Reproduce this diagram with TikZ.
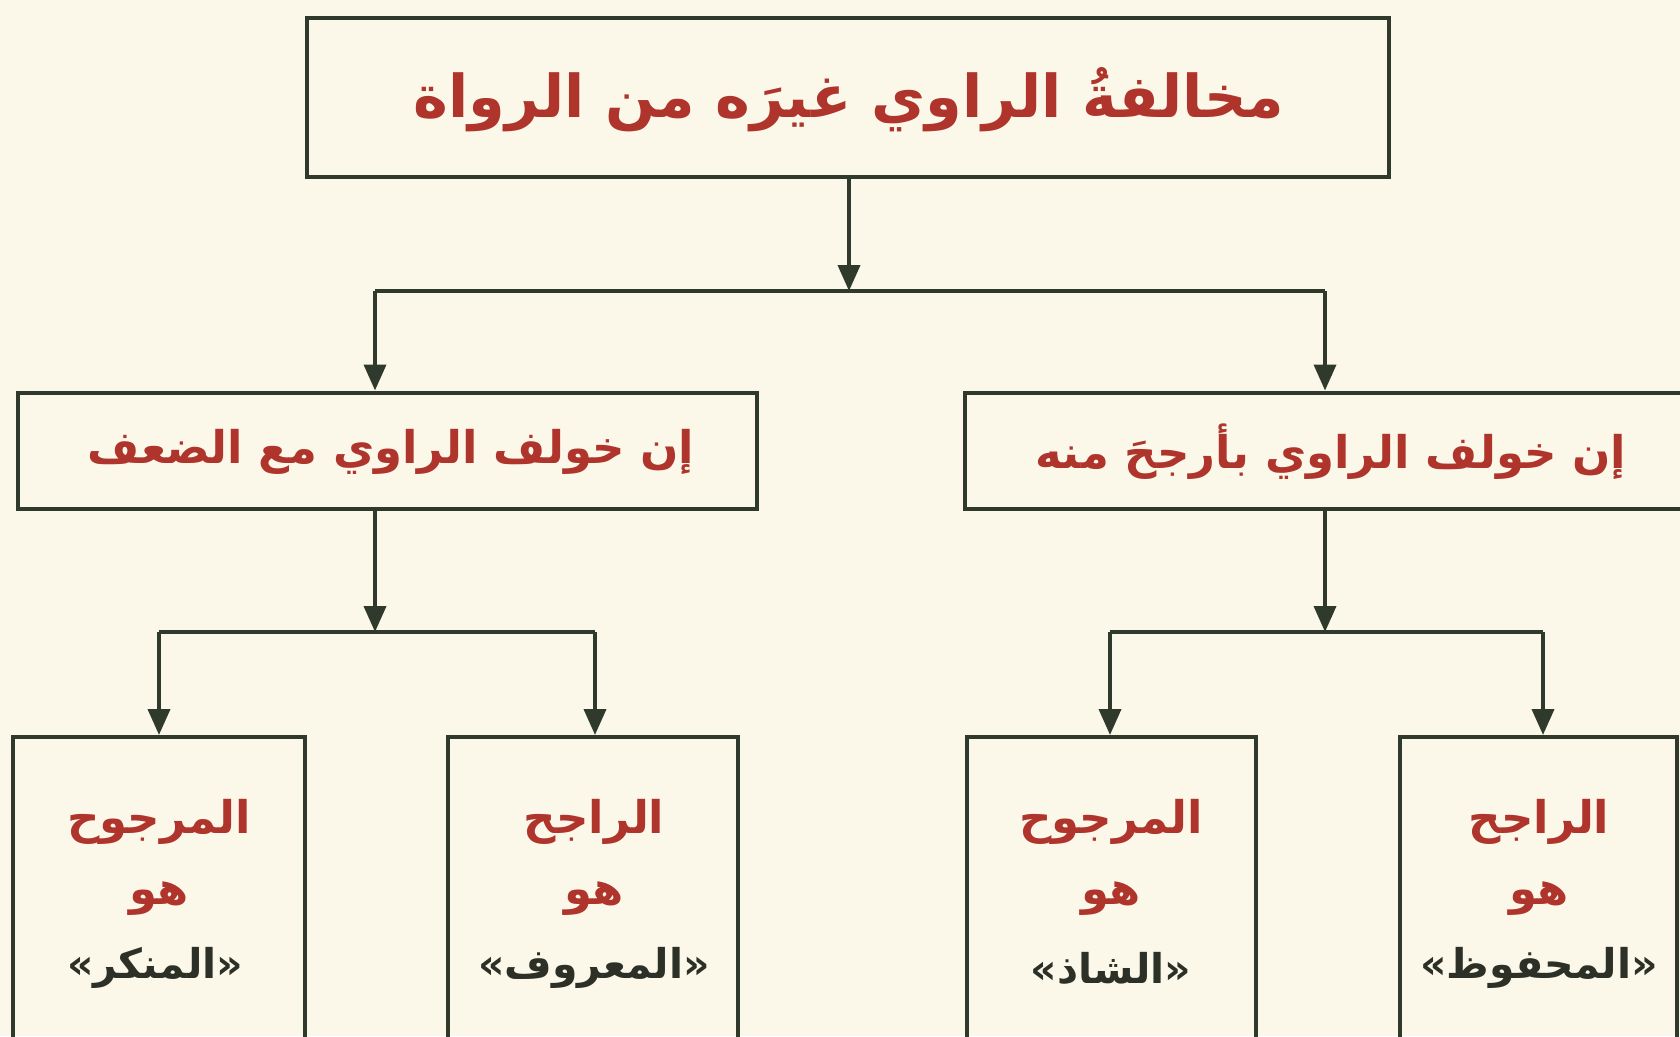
\documentclass[tikz,border=0pt]{standalone}
\usepackage{fontspec}
\usetikzlibrary{arrows.meta}
\TeXXeTstate=1
\newfontfamily\arabicfont[Script=Arabic]{DejaVu Sans}
\newfontfamily\quotefont{DejaVu Sans}
\definecolor{bg}{HTML}{FBF8EA}
\definecolor{ln}{HTML}{2F3A2C}
\definecolor{rd}{HTML}{AE342C}
\definecolor{dk}{HTML}{2C3026}
\newcommand{\quoted}[1]{{\quotefont\bfseries «}\beginR #1\endR{\quotefont\bfseries »}}
\begin{document}
\begin{tikzpicture}[x=1pt,y=-1pt,
  box/.style={draw=ln, line width=4pt, inner sep=0pt, minimum height=#1},
  conn/.style={draw=ln, line width=3.8pt},
  arr/.style={conn, -{Triangle[width=22pt,length=26pt]}},
  ttl/.style={font=\arabicfont\bfseries\fontsize{59}{66}\selectfont, text=rd, inner sep=0pt},
  mid/.style={font=\arabicfont\bfseries\fontsize{45}{52}\selectfont, text=rd, inner sep=0pt},
  lbl/.style={font=\arabicfont\bfseries\fontsize{45}{52}\selectfont, text=rd, inner sep=0pt},
  lbldk/.style={font=\arabicfont\bfseries\fontsize{41}{48}\selectfont, text=dk, inner sep=0pt}]
\useasboundingbox (0,0) rectangle (1680,1036);
\fill[bg] (0,0) rectangle (1680,1036);
\begin{scope}
\clip (0,0) rectangle (1680,1036);
% boxes
\node[box=159pt, minimum width=1082pt] (top) at (848,97.5) {};
\node[box=116pt, minimum width=739pt] (lmid) at (387.5,450.5) {};
\node[box=116pt, minimum width=732pt] (rmid) at (1331,450.5) {};
\node[box=310pt, minimum width=292pt] (b1) at (159,892) {};
\node[box=310pt, minimum width=290pt] (b2) at (593,892) {};
\node[box=310pt, minimum width=289pt] (b3) at (1111.5,892) {};
\node[box=310pt, minimum width=277pt] (b4) at (1538,892) {};
% texts
\node[ttl] (toptxt) at (849,100) {\beginR مخالفةُ الراوي غيرَه من الرواة\endR};
\node[mid] (ltxt) at (391,452) {\beginR إن خولف الراوي مع الضعف\endR};
\node[mid] (rtxt) at (1331,452) {\beginR إن خولف الراوي بأرجحَ منه\endR};
\node[lbl] (b1a) at (159,822) {\beginR المرجوح\endR};
\node[lbl] (b1b) at (159,899) {\beginR هو\endR};
\node[lbldk] (b1c) at (155,968) {\quoted{المنكر}};
\node[lbl] (b2a) at (594,822) {\beginR الراجح\endR};
\node[lbl] (b2b) at (594,899) {\beginR هو\endR};
\node[lbldk] (b2c) at (594,968) {\quoted{المعروف}};
\node[lbl] (b3a) at (1111,822) {\beginR المرجوح\endR};
\node[lbl] (b3b) at (1111,899) {\beginR هو\endR};
\node[lbldk] (b3c) at (1111,968) {\quoted{الشاذ}};
\node[lbl] (b4a) at (1539,822) {\beginR الراجح\endR};
\node[lbl] (b4b) at (1539,899) {\beginR هو\endR};
\node[lbldk] (b4c) at (1539,968) {\quoted{المحفوظ}};
% connectors
\coordinate (j0) at (849,291);
\coordinate (jl) at (375,291);
\coordinate (jr) at (1325,291);
\coordinate (kl) at (375,632);
\coordinate (kl1) at (159,632);
\coordinate (kl2) at (595,632);
\coordinate (kr) at (1325,632);
\coordinate (kr1) at (1110,632);
\coordinate (kr2) at (1543,632);
\draw[arr] (j0 |- top.south) -- (j0);
\draw[conn] (jl) -- (jr);
\draw[arr] (jl) -- (jl |- lmid.north);
\draw[arr] (jr) -- (jr |- rmid.north);
\draw[arr] (kl |- lmid.south) -- (kl);
\draw[conn] (kl1) -- (kl2);
\draw[arr] (kl1) -- (kl1 |- b1.north);
\draw[arr] (kl2) -- (kl2 |- b2.north);
\draw[arr] (kr |- rmid.south) -- (kr);
\draw[conn] (kr1) -- (kr2);
\draw[arr] (kr1) -- (kr1 |- b3.north);
\draw[arr] (kr2) -- (kr2 |- b4.north);
\end{scope}
\end{tikzpicture}
\end{document}
